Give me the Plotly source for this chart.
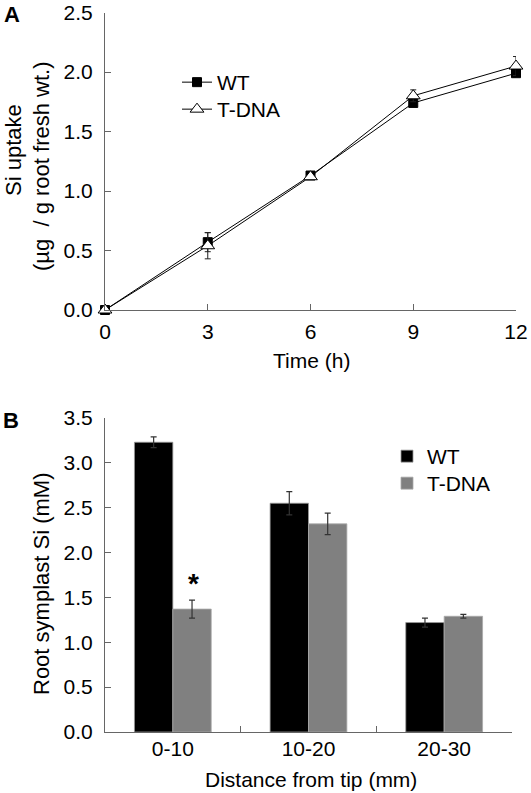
import plotly.graph_objects as go

# ---------------- data ----------------
time_h = [0, 3, 6, 9, 12]
wt_uptake = [0.0, 0.57, 1.13, 1.74, 1.99]
wt_uptake_err = [0.0, 0.08, 0.02, 0.02, 0.03]
tdna_uptake = [0.0, 0.54, 1.12, 1.80, 2.05]
tdna_uptake_err = [0.0, 0.11, 0.02, 0.05, 0.08]

segments = ["0-10", "10-20", "20-30"]
wt_symplast = [3.23, 2.55, 1.22]
wt_symplast_err = [0.06, 0.13, 0.05]
tdna_symplast = [1.37, 2.32, 1.29]
tdna_symplast_err = [0.10, 0.12, 0.02]

W, H = 531, 793
FONT = "Liberation Sans, Arial, Helvetica, sans-serif"
AX = "#666666"


def px(x):
    return x / W


def py(y):
    return (H - y) / H


fig = go.Figure()

# ---------------- panel A ----------------
fig.add_trace(go.Scatter(
    x=time_h, y=wt_uptake, name="WT", mode="lines+markers",
    xaxis="x", yaxis="y", legend="legend", cliponaxis=False, showlegend=True,
    line=dict(color="black", width=1),
    marker=dict(symbol="square", size=9, color="black", line=dict(color="black", width=1)),
    error_y=dict(type="data", array=wt_uptake_err, color="#222", thickness=1, width=3),
))
fig.add_trace(go.Scatter(
    x=time_h, y=tdna_uptake, name="T-DNA", mode="lines+markers",
    xaxis="x", yaxis="y", legend="legend2", cliponaxis=False, showlegend=True,
    line=dict(color="black", width=1),
    marker=dict(symbol="triangle-up", size=12, color="white", line=dict(color="black", width=1)),
    error_y=dict(type="data", array=tdna_uptake_err, color="#222", thickness=1, width=3),
))

# ---------------- panel B ----------------
fig.add_trace(go.Bar(
    x=segments, y=wt_symplast, name="WT", xaxis="x2", yaxis="y2", legend="legend3",
    showlegend=True,
    marker=dict(color="black", line=dict(color="#999", width=0.8)),
    error_y=dict(type="data", array=wt_symplast_err, color="#333", thickness=1.2, width=3),
))
fig.add_trace(go.Bar(
    x=segments, y=tdna_symplast, name="T-DNA", xaxis="x2", yaxis="y2", legend="legend4",
    showlegend=True,
    marker=dict(color="#808080", line=dict(color="#aaa", width=0.8)),
    error_y=dict(type="data", array=tdna_symplast_err, color="#333", thickness=1.2, width=3),
))

axis_common = dict(
    showline=True, linecolor=AX, linewidth=1, ticks="inside", ticklen=6,
    tickcolor=AX, tickwidth=1, showgrid=False, zeroline=False,
    tickfont=dict(size=21, color="black", family=FONT), automargin=False,
)


def leg(x, ytop):
    return dict(x=px(x), y=py(ytop), xanchor="left", yanchor="top",
                bgcolor="rgba(0,0,0,0)", borderwidth=0, itemwidth=30,
                font=dict(size=21, family=FONT, color="black"))


fig.update_layout(
    width=W, height=H,
    margin=dict(l=0, r=0, t=0, b=0),
    paper_bgcolor="white", plot_bgcolor="white",
    font=dict(family=FONT, color="black", size=21),
    showlegend=True,
    barmode="group", bargap=0.434, bargroupgap=0,
    xaxis=dict(domain=[px(105), px(516)], anchor="y", range=[0, 12], dtick=3,
               ticklabelstandoff=3, **axis_common),
    yaxis=dict(domain=[py(310), py(12.5)], anchor="x", range=[0, 2.5], dtick=0.5,
               tickformat=".1f", ticklabelstandoff=7, **axis_common),
    xaxis2=dict(domain=[px(105), px(512)], anchor="y2", type="category",
                range=[-0.5, 2.5], tickson="boundaries", ticklabelstandoff=-2, **axis_common),
    yaxis2=dict(domain=[py(732), py(418)], anchor="x2", range=[0, 3.5], dtick=0.5,
                tickformat=".1f", ticklabelstandoff=7, **axis_common),
    legend=leg(177, 62),
    legend2=leg(177, 89),
    legend3=leg(387, 436),
    legend4=leg(387, 463),
)

ann = [
    dict(text="<b>A</b>", x=px(12), y=py(15), font=dict(size=22)),
    dict(text="<b>B</b>", x=px(11), y=py(420), font=dict(size=22)),
    dict(text="Time (h)", x=px(311), y=py(361), font=dict(size=21)),
    dict(text="Distance from tip (mm)", x=px(311), y=py(779), font=dict(size=21)),
    dict(text="Si uptake", x=px(13), y=py(150), textangle=-90, font=dict(size=22)),
    dict(text="(µg\u00a0\u00a0/ g root fresh wt.)", x=px(41), y=py(166), textangle=-90,
         font=dict(size=22)),
    dict(text="Root symplast Si (mM)", x=px(41), y=py(584), textangle=-90, font=dict(size=22)),
]
for a in ann:
    fig.add_annotation(xref="paper", yref="paper", showarrow=False,
                       xanchor="center", yanchor="middle", **a)

fig.add_annotation(text="<b>*</b>", xref="x2", yref="y2", x=segments[0], y=1.66,
                   xshift=21, showarrow=False, font=dict(size=28, color="black"))

fig.write_html("out.html", config={"displayModeBar": False},
               post_script="document.body.style.margin='0px';")
